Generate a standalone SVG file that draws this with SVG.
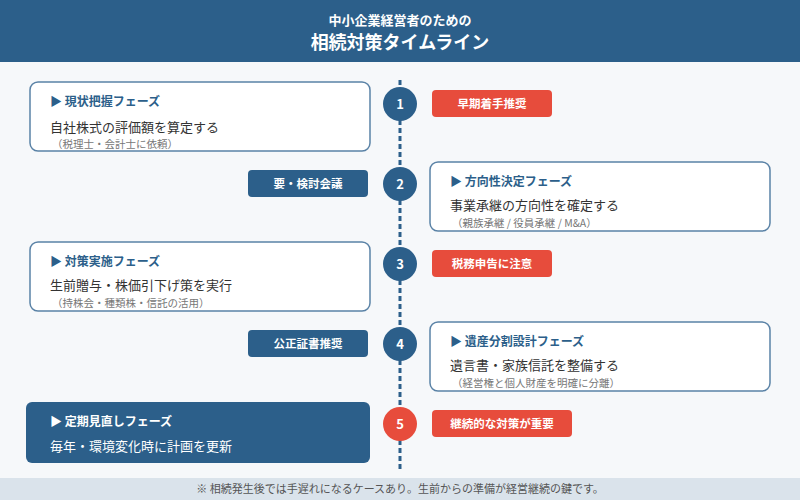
<svg xmlns="http://www.w3.org/2000/svg" width="800" height="500" viewBox="0 0 800 500">
<style>
text{font-family:"Noto Sans CJK JP","Noto Sans",sans-serif}
.box{fill:#fff;stroke:#5a82a6;stroke-width:1.5}
.dk{fill:#2c5f8a}
.rd{fill:#e74c3c}
.ph{font-size:12px;font-weight:bold;fill:#2c5f8a}
.main{font-size:13px;fill:#333}
.sub{font-size:10.5px;fill:#777}
.lb{font-size:11.5px;font-weight:bold;fill:#fff;text-anchor:middle}
.num{font-size:13px;font-weight:bold;fill:#fff;text-anchor:middle}
</style>
<rect width="800" height="500" fill="#f6f8fa"/>
<rect width="800" height="62" class="dk"/>
<text x="400" y="25" text-anchor="middle" font-size="13" font-weight="bold" fill="#fff">中小企業経営者のための</text>
<text x="400" y="49" text-anchor="middle" font-size="18" font-weight="bold" fill="#fff">相続対策タイムライン</text>
<g id="connectors"><line x1="400" y1="80" x2="400" y2="472" stroke="#2c5f8a" stroke-width="3" stroke-dasharray="5,3"/></g>
<g id="n1"><rect x="30" y="82" width="340" height="69" rx="8" class="box"/><text x="50" y="106" class="ph">▶ 現状把握フェーズ</text><text x="50" y="132" class="main">自社株式の評価額を算定する</text><text x="52" y="148" class="sub">（税理士・会計士に依頼）</text></g>
<g id="c1"><circle cx="400" cy="104" r="17" class="dk"/><text x="400" y="109" class="num">1</text></g>
<g id="l1"><rect x="432" y="90" width="120" height="27" rx="4" class="rd"/><text x="492" y="108" class="lb">早期着手推奨</text></g>
<g id="l2"><rect x="248" y="170" width="120" height="27" rx="4" class="dk"/><text x="308" y="188" class="lb">要・検討会議</text></g>
<g id="c2"><circle cx="400" cy="184" r="17" class="dk"/><text x="400" y="189" class="num">2</text></g>
<g id="n2"><rect x="430" y="162" width="340" height="69" rx="8" class="box"/><text x="450" y="186" class="ph">▶ 方向性決定フェーズ</text><text x="450" y="210" class="main">事業承継の方向性を確定する</text><text x="452" y="227" class="sub">（親族承継 / 役員承継 / M&amp;A）</text></g>
<g id="n3"><rect x="30" y="242" width="340" height="69" rx="8" class="box"/><text x="50" y="266" class="ph">▶ 対策実施フェーズ</text><text x="50" y="290" class="main">生前贈与・株価引下げ策を実行</text><text x="52" y="307" class="sub">（持株会・種類株・信託の活用）</text></g>
<g id="c3"><circle cx="400" cy="264" r="17" class="dk"/><text x="400" y="269" class="num">3</text></g>
<g id="l3"><rect x="432" y="250" width="120" height="27" rx="4" class="rd"/><text x="492" y="268" class="lb">税務申告に注意</text></g>
<g id="l4"><rect x="248" y="330" width="120" height="27" rx="4" class="dk"/><text x="308" y="348" class="lb">公正証書推奨</text></g>
<g id="c4"><circle cx="400" cy="344" r="17" class="dk"/><text x="400" y="349" class="num">4</text></g>
<g id="n4"><rect x="430" y="322" width="340" height="69" rx="8" class="box"/><text x="450" y="346" class="ph">▶ 遺産分割設計フェーズ</text><text x="450" y="370" class="main">遺言書・家族信託を整備する</text><text x="452" y="387" class="sub">（経営権と個人財産を明確に分離）</text></g>
<g id="n5"><rect x="26" y="402" width="344" height="61" rx="6" class="dk"/><text x="50" y="426" class="ph" style="fill:#fff">▶ 定期見直しフェーズ</text><text x="50" y="451" class="main" style="fill:#fff">毎年・環境変化時に計画を更新</text></g>
<g id="c5"><circle cx="400" cy="424" r="17" class="rd"/><text x="400" y="429" class="num">5</text></g>
<g id="l5"><rect x="432" y="410" width="140" height="27" rx="4" class="rd"/><text x="502" y="428" class="lb">継続的な対策が重要</text></g>
<rect x="0" y="478" width="800" height="22" fill="#dae3eb"/>
<text x="400" y="493" text-anchor="middle" font-size="11" fill="#555">※ 相続発生後では手遅れになるケースあり。生前からの準備が経営継続の鍵です。</text>
</svg>
